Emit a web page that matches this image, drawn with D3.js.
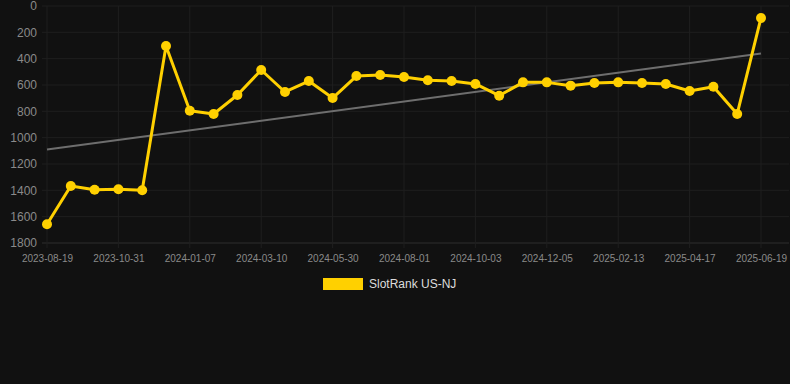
<!DOCTYPE html>
<html>
<head>
<meta charset="utf-8">
<script src="https://cdn.jsdelivr.net/npm/d3@7"></script>
<style>
  html, body { margin: 0; padding: 0; background: #111111; }
  svg { display: block; font-family: "Liberation Sans", Arial, sans-serif; }
</style>
</head>
<body>
<div id="chart"></div>
<script>
// Dates along the x axis (one per point)
var dates = [
  "2023-08-19", "2023-09-12", "2023-10-07", "2023-10-31", "2023-11-23", "2023-12-15",
  "2024-01-07", "2024-01-28", "2024-02-18", "2024-03-10", "2024-04-06", "2024-05-03",
  "2024-05-30", "2024-06-20", "2024-07-11", "2024-08-01", "2024-08-22", "2024-09-12",
  "2024-10-03", "2024-10-24", "2024-11-14", "2024-12-05", "2024-12-28", "2025-01-21",
  "2025-02-13", "2025-03-06", "2025-03-27", "2025-04-17", "2025-05-08", "2025-05-29",
  "2025-06-19"
];

// SlotRank US-NJ values (lower is better, axis reversed)
var ranks = [
  1658, 1367, 1395, 1392, 1400, 304,
  795, 820, 676, 486, 653, 570,
  699, 532, 524, 539, 564, 570,
  592, 681, 580, 580, 605, 585,
  580, 585, 592, 646, 613, 820,
  91
];

var yTicks = [0, 200, 400, 600, 800, 1000, 1200, 1400, 1600, 1800];
var seriesName = "SlotRank US-NJ";

var svgWidth = 790;
var svgHeight = 384;

// plot area edges
var plot = { left: 47, right: 761, gridRight: 789, top: 6, bottom: 243 };

var svg = d3.select("#chart")
  .append("svg")
  .attr("width", svgWidth)
  .attr("height", svgHeight);

svg.append("rect")
  .attr("width", svgWidth)
  .attr("height", svgHeight)
  .attr("fill", "#111111");

var xScale = d3.scalePoint()
  .domain(dates)
  .range([plot.left, plot.right]);

var yScale = d3.scaleLinear()
  .domain([0, 1800])
  .range([plot.top, plot.bottom]);

// every third date gets a tick
var xTickDates = dates.filter((d, i) => i % 3 === 0);

// horizontal grid
svg.append("g")
  .selectAll("line")
  .data(yTicks)
  .enter()
  .append("line")
  .attr("x1", plot.left - 5)
  .attr("x2", plot.gridRight)
  .attr("y1", d => yScale(d))
  .attr("y2", d => yScale(d))
  .attr("stroke", d => d === 1800 ? "#2e2e2e" : "#1f1f1f")
  .attr("stroke-width", 1);

// vertical grid
svg.append("g")
  .selectAll("line")
  .data(xTickDates)
  .enter()
  .append("line")
  .attr("x1", d => xScale(d))
  .attr("x2", d => xScale(d))
  .attr("y1", plot.top)
  .attr("y2", plot.bottom + 5)
  .attr("stroke", "#1f1f1f")
  .attr("stroke-width", 1);

// y labels
var yAxis = svg.append("g")
  .attr("transform", `translate(${plot.left}, 0)`)
  .call(d3.axisLeft(yScale).tickValues(yTicks).tickFormat(d3.format("d")).tickSize(0).tickPadding(10));
yAxis.select(".domain").remove();
yAxis.selectAll("text")
  .attr("fill", "#8a8a8a")
  .style("font-size", "12px")
  .style("font-family", "'Liberation Sans', Arial, sans-serif");

// x labels
var xAxis = svg.append("g")
  .attr("transform", `translate(0, ${plot.bottom})`)
  .call(d3.axisBottom(xScale).tickValues(xTickDates).tickSize(0).tickPadding(12));
xAxis.select(".domain").remove();
xAxis.selectAll("text")
  .attr("fill", "#8a8a8a")
  .style("font-size", "10px")
  .style("font-family", "'Liberation Sans', Arial, sans-serif");

// linear trend (least squares over point index)
var n = ranks.length;
var meanX = d3.mean(ranks, (d, i) => i);
var meanY = d3.mean(ranks);
var slope = d3.sum(ranks, (d, i) => (i - meanX) * (d - meanY)) /
  d3.sum(ranks, (d, i) => (i - meanX) * (i - meanX));
var intercept = meanY - slope * meanX;

svg.append("line")
  .attr("x1", xScale(dates[0]))
  .attr("y1", yScale(intercept))
  .attr("x2", xScale(dates[n - 1]))
  .attr("y2", yScale(intercept + slope * (n - 1)))
  .attr("stroke", "#6e6e6e")
  .attr("stroke-width", 2);

// main line
var line = d3.line()
  .x((d, i) => xScale(dates[i]))
  .y(d => yScale(d));

svg.append("path")
  .datum(ranks)
  .attr("d", line)
  .attr("fill", "none")
  .attr("stroke", "#ffd000")
  .attr("stroke-width", 3)
  .attr("stroke-linejoin", "round");

svg.append("g")
  .selectAll("circle")
  .data(ranks)
  .enter()
  .append("circle")
  .attr("cx", (d, i) => xScale(dates[i]))
  .attr("cy", d => yScale(d))
  .attr("r", 5)
  .attr("fill", "#ffd000");

// legend
var legend = svg.append("g");
legend.append("rect")
  .attr("x", 323)
  .attr("y", 278)
  .attr("width", 40)
  .attr("height", 12)
  .attr("fill", "#ffd000");
legend.append("text")
  .attr("x", 369)
  .attr("y", 288)
  .attr("fill", "#dddddd")
  .style("font-size", "12px")
  .text(seriesName);
</script>
</body>
</html>
